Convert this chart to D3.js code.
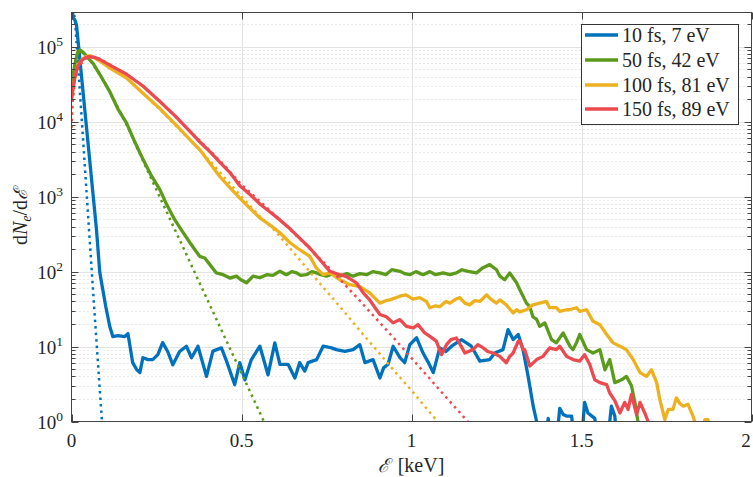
<!DOCTYPE html>
<html><head><meta charset="utf-8">
<script src="https://cdn.jsdelivr.net/npm/d3@7"></script>
<style>
html,body{margin:0;padding:0;background:#fff;}
svg{display:block;}
text{font-family:"Liberation Serif","Times New Roman",serif;fill:#262626;}
</style></head>
<body>
<svg id="chart" width="753" height="477"></svg>
<script>
// ---------------- data ----------------
const seriesNames = ["10 fs, 7 eV", "50 fs, 42 eV", "100 fs, 81 eV", "150 fs, 89 eV"];
const xTickValues = [0, 0.5, 1, 1.5, 2];
const xTickLabels = ["0", "0.5", "1", "1.5", "2"];
const yTickExponents = [0, 1, 2, 3, 4, 5];

const blueSolid = [[0,4e5],[0.005,2.4e5],[0.0097,2.3e5],[0.0147,1.96e5],[0.0735,363],[0.0832,97],[0.1009,34],[0.1126,18.5],[0.1215,13.6],[0.136,14],[0.157,13.6],[0.166,14.9],[0.180,6.1],[0.192,4.9],[0.201,4.5],[0.210,7.1],[0.225,6.7],[0.239,6.7],[0.254,7.8],[0.268,11.3],[0.283,8.6],[0.298,5.7],[0.318,8.6],[0.338,10.1],[0.353,7.1],[0.372,10.1],[0.397,4.0],[0.416,8.7],[0.441,9.6],[0.456,6.4],[0.480,3.1],[0.495,6.1],[0.510,3.6],[0.529,6.7],[0.554,10.1],[0.578,4.2],[0.598,11.2],[0.613,5.8],[0.637,5.8],[0.657,3.8],[0.671,6.1],[0.686,4.7],[0.696,6.1],[0.721,6.7],[0.740,10.1],[0.765,9.6],[0.779,9.1],[0.804,8.6],[0.828,9.1],[0.848,10.6],[0.863,6.1],[0.887,6.7],[0.907,3.8],[0.918,5.2],[0.931,5.8],[0.946,10.1],[0.966,7.1],[0.980,6.1],[0.995,10.6],[1.015,13.1],[1.034,8.2],[1.048,6.3],[1.064,4.5],[1.083,9.6],[1.101,8.6],[1.118,10.1],[1.147,12.4],[1.176,10.1],[1.201,6.4],[1.230,6.7],[1.245,8.2],[1.269,9.1],[1.284,16.8],[1.299,12.4],[1.314,14.5],[1.328,9.1],[1.343,4.0],[1.358,1.6],[1.368,1.0],[1.377,0.57],[1.395,0.57],[1.402,1.1],[1.413,0.57],[1.427,0.57],[1.436,1.5],[1.446,1.24],[1.456,1.18],[1.471,1.18],[1.478,0.57],[1.501,0.57],[1.509,1.8],[1.519,1.3],[1.539,1.1],[1.548,0.57],[1.577,0.57],[1.588,1.6],[1.598,1.18],[1.604,0.57],[1.642,0.57]];
const blueFit = [[0,2.6e5],[0.004,3.2e5],[0.01,2.4e5],[0.03,1.1e4],[0.05,4.6e2],[0.07,2.0e1],[0.09,0.95e0],[0.101,0.2]];

const greenSolid = [[0,2.8e4],[0.0097,5.8e4],[0.0185,8.6e4],[0.0244,9.1e4],[0.036,8.3e4],[0.048,7.1e4],[0.0635,6.0e4],[0.083,4.3e4],[0.113,2.5e4],[0.136,1.5e4],[0.162,9.6e3],[0.186,5.4e3],[0.211,3.1e3],[0.233,1.97e3],[0.260,1.24e3],[0.280,785],[0.304,490],[0.327,340],[0.348,245],[0.363,196],[0.377,160],[0.392,152],[0.407,124],[0.426,96],[0.446,91],[0.466,82],[0.485,87],[0.498,78],[0.515,71],[0.534,87],[0.554,83],[0.574,91],[0.592,89],[0.613,101],[0.632,91],[0.648,100],[0.662,96],[0.674,89],[0.691,91],[0.707,100],[0.721,96],[0.733,91],[0.750,87],[0.769,94],[0.789,87],[0.810,94],[0.828,87],[0.848,94],[0.868,91],[0.886,100],[0.907,96],[0.924,91],[0.942,106],[0.966,101],[0.980,94],[0.995,91],[1.013,100],[1.034,91],[1.054,100],[1.071,91],[1.093,96],[1.113,91],[1.132,96],[1.148,106],[1.166,101],[1.191,96],[1.210,113],[1.230,124],[1.250,106],[1.260,87],[1.274,78],[1.289,96],[1.309,71],[1.319,57],[1.338,38],[1.348,34],[1.357,25],[1.368,23],[1.377,18.6],[1.392,20.7],[1.412,12.4],[1.426,11.2],[1.446,15.2],[1.466,10.1],[1.475,9.1],[1.485,11.2],[1.495,14.5],[1.515,9.1],[1.534,8.2],[1.554,9.1],[1.569,4.9],[1.583,6.7],[1.598,3.3],[1.618,3.6],[1.632,4.0],[1.647,3.0],[1.657,1.8],[1.666,1.0],[1.671,0.57]];
const greenFit = [[0,2.5e4],[0.01,6.5e4],[0.024,9.0e4],[0.048,7.3e4],[0.083,4.3e4],[0.113,2.5e4],[0.162,9.2e3],[0.211,2.96e3],[0.26,980],[0.3185,263],[0.40,41.8],[0.48,6.9],[0.566,1.0],[0.6,0.45]];

const yellowSolid = [[0,1.96e4],[0.004,2.7e4],[0.0097,3.9e4],[0.0185,5.6e4],[0.030,6.7e4],[0.042,7.4e4],[0.054,7.6e4],[0.0685,7.1e4],[0.083,6.5e4],[0.113,5.2e4],[0.162,3.83e4],[0.21,2.4e4],[0.26,1.5e4],[0.307,9.1e3],[0.358,5.2e3],[0.378,4.2e3],[0.407,2.8e3],[0.436,1.86e3],[0.466,1.32e3],[0.495,960],[0.525,700],[0.554,520],[0.583,420],[0.613,330],[0.642,245],[0.671,196],[0.701,160],[0.720,112],[0.740,91],[0.760,96],[0.789,78],[0.819,67],[0.848,63],[0.877,52],[0.907,38],[0.924,41],[0.936,42],[0.966,47],[0.984,49],[1.004,43],[1.024,45],[1.044,40],[1.054,33],[1.071,35],[1.083,34],[1.101,40],[1.113,38],[1.127,42],[1.142,45],[1.157,38],[1.171,36],[1.186,41],[1.201,40],[1.221,49],[1.233,43],[1.250,38],[1.260,42],[1.279,36],[1.299,28],[1.309,31],[1.318,29],[1.338,31],[1.357,36],[1.377,38],[1.397,40],[1.406,33],[1.426,33],[1.436,29.5],[1.456,31],[1.465,31],[1.485,33],[1.495,29.5],[1.515,31],[1.534,21.7],[1.554,19.6],[1.574,14.5],[1.593,11.2],[1.613,10.1],[1.632,9.1],[1.652,6.7],[1.672,4.5],[1.691,4.0],[1.706,4.9],[1.721,3.3],[1.730,2.0],[1.745,1.06],[1.755,1.45],[1.769,1.45],[1.779,2.07],[1.789,1.74],[1.799,1.6],[1.813,1.7],[1.828,1.18],[1.833,1.0],[1.839,0.57],[1.857,0.57],[1.863,1.06],[1.872,1.06],[1.877,0.57]];
const yellowFit = [[0,8.3e3],[0.003,2.0e4],[0.01,4.0e4],[0.02,5.8e4],[0.04,7.2e4],[0.06,7.3e4],[0.083,6.6e4],[0.113,5.3e4],[0.162,3.8e4],[0.21,2.4e4],[0.26,1.45e4],[0.307,8.8e3],[0.358,5.2e3],[0.41,2.9e3],[0.45,1.8e3],[0.5,1.0e3],[0.55,570],[0.6,345],[0.65,187],[0.7,101],[0.75,55],[0.8,30],[0.85,16],[0.9,8.7],[0.95,4.7],[1.0,2.6],[1.05,1.39],[1.1,0.75]];

const redSolid = [[0,2.0e4],[0.004,2.7e4],[0.0097,3.9e4],[0.0185,5.5e4],[0.03,6.6e4],[0.042,7.2e4],[0.05,7.4e4],[0.065,7.3e4],[0.083,6.8e4],[0.113,5.7e4],[0.162,4.3e4],[0.21,3.0e4],[0.26,1.86e4],[0.307,1.17e4],[0.358,6.7e3],[0.377,5.4e3],[0.407,4.0e3],[0.436,2.9e3],[0.466,2.1e3],[0.495,1.4e3],[0.525,1.07e3],[0.554,800],[0.583,630],[0.613,490],[0.642,375],[0.671,280],[0.701,207],[0.730,145],[0.760,101],[0.789,91],[0.809,86],[0.838,71],[0.858,52],[0.877,42],[0.897,31],[0.907,26.8],[0.926,25],[0.946,20.7],[0.966,22.9],[0.985,18.6],[1.005,17.7],[1.019,19.6],[1.039,15.2],[1.054,13.7],[1.073,11.8],[1.088,7.8],[1.103,10.6],[1.116,12.4],[1.132,13.0],[1.145,10.3],[1.157,8.2],[1.181,9.1],[1.195,10.6],[1.211,9.6],[1.224,8.6],[1.240,8.2],[1.260,7.4],[1.269,6.7],[1.279,6.1],[1.289,7.4],[1.299,8.2],[1.314,11.8],[1.319,11.8],[1.328,9.1],[1.333,9.1],[1.348,5.5],[1.368,6.7],[1.387,7.4],[1.406,9.6],[1.426,9.1],[1.436,10.1],[1.456,7.4],[1.475,6.7],[1.495,6.4],[1.509,7.8],[1.524,5.8],[1.539,3.6],[1.554,3.3],[1.574,3.1],[1.583,2.4],[1.598,1.9],[1.613,1.3],[1.627,1.8],[1.637,1.45],[1.647,2.3],[1.662,1.24],[1.672,1.8],[1.686,1.3],[1.696,1.0],[1.704,0.57]];
const redFit = [[0,8.3e3],[0.003,1.8e4],[0.01,3.6e4],[0.02,5.3e4],[0.04,6.9e4],[0.06,7.3e4],[0.083,6.9e4],[0.113,5.8e4],[0.162,4.3e4],[0.21,3.0e4],[0.26,1.86e4],[0.307,1.15e4],[0.358,6.8e3],[0.41,4.0e3],[0.45,2.6e3],[0.5,1.45e3],[0.55,900],[0.6,560],[0.65,340],[0.7,205],[0.75,122],[0.8,70],[0.85,40],[0.9,22.5],[0.95,12.7],[1.0,7.0],[1.05,3.9],[1.1,2.15],[1.15,1.2],[1.2,0.66]];

const solids = [blueSolid, greenSolid, yellowSolid, redSolid];
const fits = [blueFit, greenFit, yellowFit, redFit];
const colors = ["#0072BD", "#5B9A1A", "#EDB120", "#EC4A4F"];

// ---------------- layout ----------------
const L = 71.5, R = 751.5, T = 12.5, B = 421.5;
const svg = d3.select("#chart");
const x = d3.scaleLinear().domain([0, 2]).range([L, R]);
const y = d3.scaleLog().domain([1, 2.87e5]).range([B, T]);

svg.append("defs").append("clipPath").attr("id", "clip")
  .append("rect").attr("x", L).attr("y", T).attr("width", R - L).attr("height", B - T);

// minor grid (horizontal dotted)
const minorVals = [];
for (let e = 0; e <= 5; e++) for (let m = 2; m <= 9; m++) { const v = m * Math.pow(10, e); if (v < 2.87e5) minorVals.push(v); }
const grid = svg.append("g");
grid.selectAll(".mg").data(minorVals).join("line")
  .attr("x1", L).attr("x2", R)
  .attr("y1", d => Math.round(y(d)) + 0.5).attr("y2", d => Math.round(y(d)) + 0.5)
  .attr("stroke", "#d4d4d4").attr("stroke-width", 1).attr("stroke-dasharray", "1,3");
grid.selectAll(".Mg").data(yTickExponents.slice(1)).join("line")
  .attr("x1", L).attr("x2", R)
  .attr("y1", d => Math.round(y(Math.pow(10, d))) + 0.5).attr("y2", d => Math.round(y(Math.pow(10, d))) + 0.5)
  .attr("stroke", "#e3e3e3").attr("stroke-width", 1);
grid.selectAll(".Mgx").data(xTickValues.slice(1, -1)).join("line")
  .attr("x1", d => Math.round(x(d)) + 0.5).attr("x2", d => Math.round(x(d)) + 0.5)
  .attr("y1", T).attr("y2", B)
  .attr("stroke", "#e3e3e3").attr("stroke-width", 1);

// lines
const line = d3.line().x(d => x(d[0])).y(d => y(Math.max(d[1], 0.01)));
const plot = svg.append("g").attr("clip-path", "url(#clip)");
solids.forEach((s, i) => {
  plot.append("path").datum(s).attr("d", line)
    .attr("fill", "none").attr("stroke", colors[i]).attr("stroke-width", 3.3)
    .attr("stroke-linejoin", "round");
  plot.append("path").datum(fits[i]).attr("d", line)
    .attr("fill", "none").attr("stroke", colors[i]).attr("stroke-width", 2.5)
    .attr("stroke-dasharray", "2.5,4");
});

// axes box
const axisColor = "#444";
svg.append("rect").attr("x", L).attr("y", T).attr("width", R - L).attr("height", B - T)
  .attr("fill", "none").attr("stroke", axisColor).attr("stroke-width", 1);

const yMajor = yTickExponents.map(e => Math.pow(10, e));
const tg = svg.append("g").attr("stroke", axisColor).attr("stroke-width", 1);
yMajor.forEach(v => {
  const py = Math.round(y(v)) + 0.5;
  tg.append("line").attr("x1", L).attr("x2", L + 7).attr("y1", py).attr("y2", py);
  tg.append("line").attr("x1", R).attr("x2", R - 7).attr("y1", py).attr("y2", py);
});
minorVals.forEach(v => {
  const py = Math.round(y(v)) + 0.5;
  tg.append("line").attr("x1", L).attr("x2", L + 4).attr("y1", py).attr("y2", py);
  tg.append("line").attr("x1", R).attr("x2", R - 4).attr("y1", py).attr("y2", py);
});
xTickValues.forEach(v => {
  const px = Math.round(x(v)) + 0.5;
  tg.append("line").attr("x1", px).attr("x2", px).attr("y1", B).attr("y2", B - 7);
  tg.append("line").attr("x1", px).attr("x2", px).attr("y1", T).attr("y2", T + 7);
});

// y tick labels
const yl = svg.append("g");
yTickExponents.forEach(e => {
  const t = yl.append("text").attr("x", 63).attr("y", y(Math.pow(10, e)) + 7)
    .attr("text-anchor", "end").style("font-size", "19px");
  t.append("tspan").text("10");
  t.append("tspan").attr("dy", -8).style("font-size", "13.5px").text(String(e));
});
// x tick labels
xTickValues.forEach((v, i) => {
  svg.append("text").attr("x", Math.min(x(v), 746)).attr("y", 447).attr("text-anchor", "middle")
    .style("font-size", "19px").text(xTickLabels[i]);
});

// axis labels
const xl = svg.append("text").attr("x", 411).attr("y", 472).attr("text-anchor", "middle").style("font-size", "20px");
xl.append("tspan").style("font-family", "DejaVu Serif").style("font-style", "italic").style("font-size", "19px").text("ℰ");
xl.append("tspan").text("\u2009 [keV]");

const ylab = svg.append("text").attr("transform", "translate(27,217) rotate(-90)")
  .attr("text-anchor", "middle").style("font-size", "20px");
ylab.append("tspan").text("d");
ylab.append("tspan").style("font-style", "italic").text("N");
ylab.append("tspan").attr("dy", 4).style("font-style", "italic").style("font-size", "14px").text("e");
ylab.append("tspan").attr("dy", -4).text("/d");
ylab.append("tspan").style("font-family", "DejaVu Serif").style("font-style", "italic").style("font-size", "19px").text("ℰ");

// legend
const lg = svg.append("g");
lg.append("rect").attr("x", 581.5).attr("y", 24.5).attr("width", 157).attr("height", 100)
  .attr("fill", "#fff").attr("stroke", "#333").attr("stroke-width", 1);
const rowY = [35, 60, 85, 109];
seriesNames.forEach((n, i) => {
  lg.append("line").attr("x1", 585).attr("x2", 618).attr("y1", rowY[i]).attr("y2", rowY[i])
    .attr("stroke", colors[i]).attr("stroke-width", 3.3);
  lg.append("text").attr("x", 622).attr("y", rowY[i] + 6.5).style("font-size", "20px").text(n);
});
</script>
</body></html>
